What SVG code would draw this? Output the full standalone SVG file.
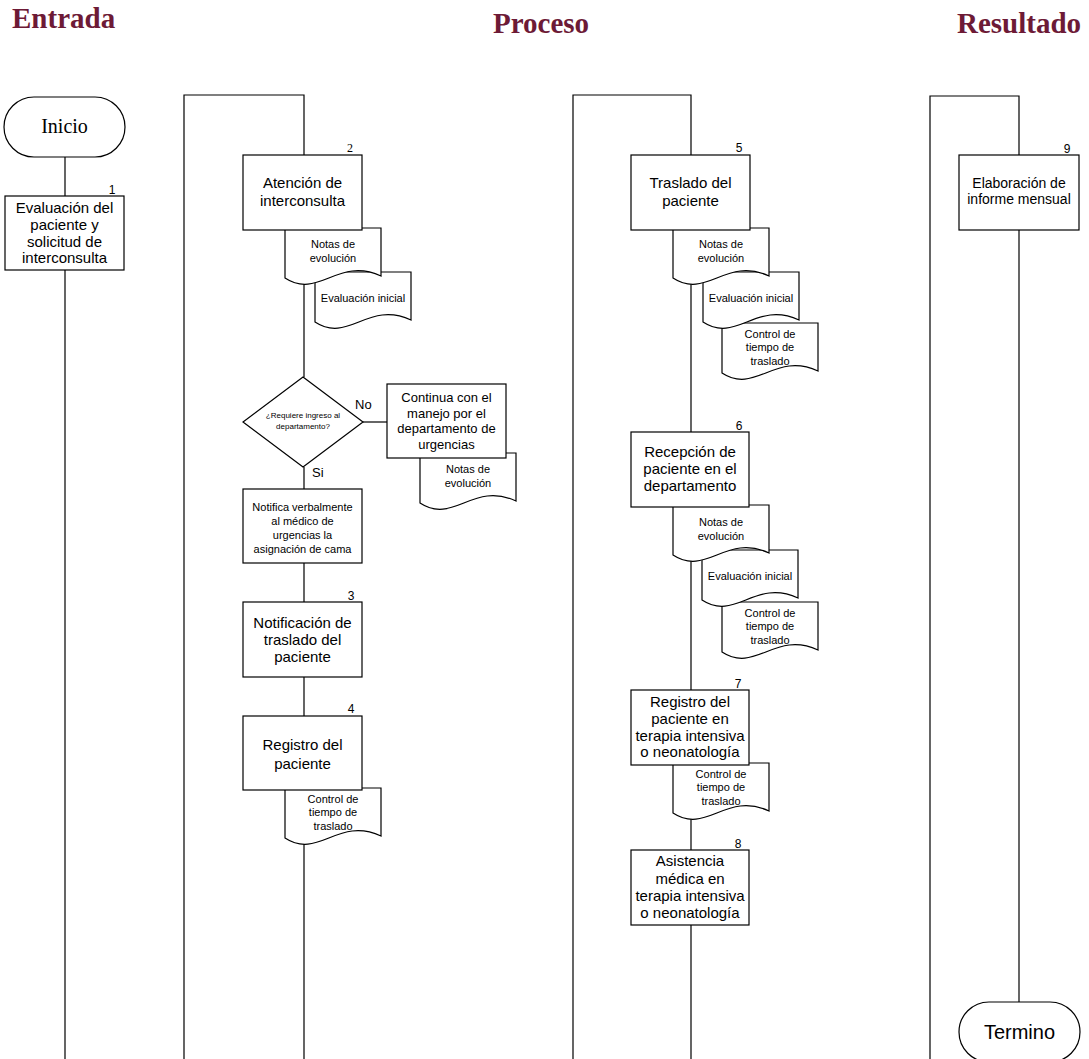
<svg xmlns="http://www.w3.org/2000/svg" xmlns:xlink="http://www.w3.org/1999/xlink" width="1089" height="1059" viewBox="0 0 1089 1059">
<style>
.ln{fill:none;stroke:#000;stroke-width:1.2}
.bx{fill:#fff;stroke:#000;stroke-width:1.2}
.t{font-family:"Liberation Sans",Arial,sans-serif;fill:#000;text-anchor:middle}
.h{font-family:"Liberation Serif","Times New Roman",serif;font-weight:bold;font-size:29px;fill:#6d1a36}
.n{font-family:"Liberation Sans",Arial,sans-serif;font-size:12px;fill:#000;text-anchor:middle}
.s20{font-size:20px}.s15{font-size:15px}.s14{font-size:14px}.s13{font-size:13px}.s11{font-size:11px}.s8{font-size:8px}
.serif{font-family:"Liberation Serif","Times New Roman",serif}
</style>
<defs>
<path id="doc" d="M0,0 H96 V48 C52.8,28 33.6,72 0,50 Z" fill="#fff" stroke="#000" stroke-width="1.2"/>
</defs>
<rect width="1089" height="1059" fill="#fff"/>
<g id="headers">
<text class="h" x="12" y="28">Entrada</text>
<text class="h" x="493" y="33">Proceso</text>
<text class="h" x="957" y="33">Resultado</text>
</g>
<g id="lanes">
<path class="ln" d="M184,1059 V95 H304 V155"/>
<path class="ln" d="M573,1059 V95 H691 V155"/>
<path class="ln" d="M930,1059 V96 H1019 V155"/>
</g>
<g id="connectors">
<path class="ln" d="M65,157 V196 M65,270 V1059"/>
<path class="ln" d="M304,230 V377 M304,467 V489 M304,563 V602 M304,677 V716 M304,790 V1059"/>
<path class="ln" d="M363,422 H387"/>
<path class="ln" d="M691,230 V432 M691,507 V690 M691,765 V850 M691,925 V1059"/>
<path class="ln" d="M1019,230 V1002"/>
<text class="t s13" x="355" y="409" style="text-anchor:start">No</text>
<text class="t s13" x="312" y="477" style="text-anchor:start">Si</text>
</g>
<g id="inicio">
<rect class="bx" x="4" y="97" width="121" height="60" rx="30"/>
<text class="t s20 serif" x="64.5" y="133">Inicio</text>
</g>
<g id="n1">
<rect class="bx" x="5" y="196" width="119" height="74"/>
<text class="n" x="112" y="194">1</text>
<text class="t s15" x="64.5" y="213">Evaluación del</text>
<text class="t s15" x="64.5" y="230">paciente y</text>
<text class="t s15" x="64.5" y="247">solicitud de</text>
<text class="t s15" x="64.5" y="263">interconsulta</text>
</g>
<g id="d2b">
<use xlink:href="#doc" x="315" y="272"/>
<text class="t s11" x="363" y="302">Evaluación inicial</text>
</g>
<g id="d2a">
<use xlink:href="#doc" x="285" y="228"/>
<text class="t s11" x="333" y="248">Notas de</text>
<text class="t s11" x="333" y="262">evolución</text>
</g>
<g id="n2">
<rect class="bx" x="243" y="155" width="119" height="75"/>
<text class="n serif" x="350" y="152">2</text>
<text class="t s15" x="302.5" y="188">Atención de</text>
<text class="t s15" x="302.5" y="206">interconsulta</text>
</g>
<g id="decision">
<polygon class="bx" points="303,377 363,422 303,467 243,422"/>
<text class="t s8" x="303" y="418">¿Requiere ingreso al</text>
<text class="t s8" x="303" y="429">departamento?</text>
</g>
<g id="dcont">
<use xlink:href="#doc" x="420" y="453"/>
<text class="t s11" x="468" y="473">Notas de</text>
<text class="t s11" x="468" y="487">evolución</text>
</g>
<g id="continua">
<rect class="bx" x="387" y="384" width="119" height="74"/>
<text class="t s13" x="446.5" y="402">Continua con el</text>
<text class="t s13" x="446.5" y="418">manejo por el</text>
<text class="t s13" x="446.5" y="433">departamento de</text>
<text class="t s13" x="446.5" y="449">urgencias</text>
</g>
<g id="notifica">
<rect class="bx" x="243" y="489" width="119" height="74"/>
<text class="t s11" x="302.5" y="511">Notifica verbalmente</text>
<text class="t s11" x="302.5" y="525">al médico de</text>
<text class="t s11" x="302.5" y="539">urgencias la</text>
<text class="t s11" x="302.5" y="553">asignación de cama</text>
</g>
<g id="n3">
<rect class="bx" x="243" y="602" width="119" height="75"/>
<text class="n" x="351" y="600">3</text>
<text class="t s15" x="302.5" y="628">Notificación de</text>
<text class="t s15" x="302.5" y="645">traslado del</text>
<text class="t s15" x="302.5" y="662">paciente</text>
</g>
<g id="d4">
<use xlink:href="#doc" x="285" y="788"/>
<text class="t s11" x="333" y="803">Control de</text>
<text class="t s11" x="333" y="816">tiempo de</text>
<text class="t s11" x="333" y="830">traslado</text>
</g>
<g id="n4">
<rect class="bx" x="243" y="716" width="119" height="74"/>
<text class="n" x="351" y="713">4</text>
<text class="t s15" x="302.5" y="750">Registro del</text>
<text class="t s15" x="302.5" y="769">paciente</text>
</g>
<g id="d5c">
<use xlink:href="#doc" x="722" y="323"/>
<text class="t s11" x="770" y="338">Control de</text>
<text class="t s11" x="770" y="351">tiempo de</text>
<text class="t s11" x="770" y="365">traslado</text>
</g>
<g id="d5b">
<use xlink:href="#doc" x="703" y="272"/>
<text class="t s11" x="751" y="302">Evaluación inicial</text>
</g>
<g id="d5a">
<use xlink:href="#doc" x="673" y="228"/>
<text class="t s11" x="721" y="248">Notas de</text>
<text class="t s11" x="721" y="262">evolución</text>
</g>
<g id="n5">
<rect class="bx" x="631" y="155" width="119" height="75"/>
<text class="n" x="739" y="152">5</text>
<text class="t s15" x="690.5" y="188">Traslado del</text>
<text class="t s15" x="690.5" y="206">paciente</text>
</g>
<g id="d6c">
<use xlink:href="#doc" x="722" y="602"/>
<text class="t s11" x="770" y="617">Control de</text>
<text class="t s11" x="770" y="630">tiempo de</text>
<text class="t s11" x="770" y="644">traslado</text>
</g>
<g id="d6b">
<use xlink:href="#doc" x="702" y="550"/>
<text class="t s11" x="750" y="580">Evaluación inicial</text>
</g>
<g id="d6a">
<use xlink:href="#doc" x="673" y="505"/>
<text class="t s11" x="721" y="526">Notas de</text>
<text class="t s11" x="721" y="540">evolución</text>
</g>
<g id="n6">
<rect class="bx" x="631" y="432" width="118" height="75"/>
<text class="n" x="739" y="430">6</text>
<text class="t s15" x="690" y="457">Recepción de</text>
<text class="t s15" x="690" y="474">paciente en el</text>
<text class="t s15" x="690" y="491">departamento</text>
</g>
<g id="d7">
<use xlink:href="#doc" x="673" y="763"/>
<text class="t s11" x="721" y="778">Control de</text>
<text class="t s11" x="721" y="791">tiempo de</text>
<text class="t s11" x="721" y="805">traslado</text>
</g>
<g id="n7">
<rect class="bx" x="631" y="690" width="118" height="75"/>
<text class="n" x="738" y="688">7</text>
<text class="t s15" x="690" y="707">Registro del</text>
<text class="t s15" x="690" y="724">paciente en</text>
<text class="t s15" x="690" y="741">terapia intensiva</text>
<text class="t s15" x="690" y="757">o neonatología</text>
</g>
<g id="n8">
<rect class="bx" x="631" y="850" width="118" height="75"/>
<text class="n" x="738" y="848">8</text>
<text class="t s15" x="690" y="866">Asistencia</text>
<text class="t s15" x="690" y="884">médica en</text>
<text class="t s15" x="690" y="901">terapia intensiva</text>
<text class="t s15" x="690" y="918">o neonatología</text>
</g>
<g id="n9">
<rect class="bx" x="959" y="155" width="120" height="75"/>
<text class="n" x="1067" y="153">9</text>
<text class="t s14" x="1019" y="188">Elaboración de</text>
<text class="t s14" x="1019" y="204">informe mensual</text>
</g>
<g id="termino">
<rect class="bx" x="959" y="1002" width="121" height="60" rx="30"/>
<text class="t s20" x="1019.5" y="1039">Termino</text>
</g>
</svg>
